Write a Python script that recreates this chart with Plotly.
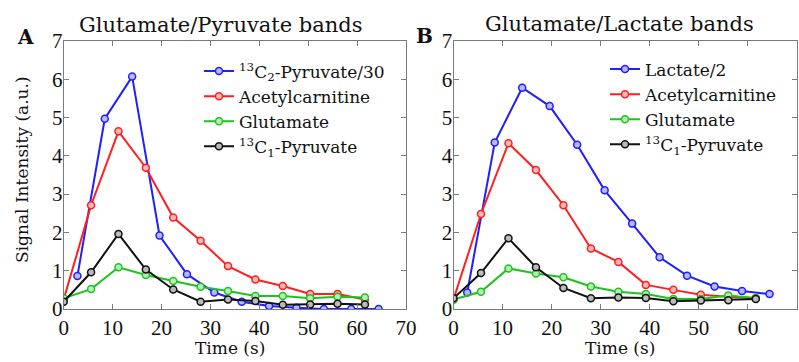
import plotly.graph_objects as go

# ---- data ----
t_main = [0, 5.6, 11.2, 16.8, 22.4, 28.0, 33.6, 39.2, 44.8, 50.4, 56.0, 61.6]
t_blue = [2.8, 8.4, 14.0, 19.6, 25.2, 30.8, 36.4, 42.0, 47.6, 53.2, 58.8, 64.4]

a_pyr30 = [0.86, 4.97, 6.07, 1.92, 0.91, 0.43, 0.19, 0.08, 0.03, 0.0, 0.0, 0.0]
a_acetyl = [0.25, 2.71, 4.64, 3.69, 2.39, 1.78, 1.12, 0.77, 0.60, 0.39, 0.39, 0.25]
a_glut = [0.28, 0.52, 1.09, 0.89, 0.73, 0.58, 0.47, 0.34, 0.34, 0.28, 0.32, 0.30]
a_pyr1 = [0.19, 0.96, 1.96, 1.03, 0.51, 0.19, 0.25, 0.21, 0.11, 0.12, 0.14, 0.12]

b_lact2 = [0.43, 4.35, 5.78, 5.30, 4.29, 3.10, 2.23, 1.35, 0.87, 0.59, 0.47, 0.39]
b_acetyl = [0.25, 2.48, 4.33, 3.63, 2.71, 1.58, 1.23, 0.63, 0.50, 0.37, 0.32, 0.29]
b_glut = [0.25, 0.45, 1.06, 0.93, 0.83, 0.59, 0.45, 0.39, 0.26, 0.26, 0.35, 0.28]
b_pyr1 = [0.28, 0.94, 1.85, 1.09, 0.55, 0.28, 0.30, 0.29, 0.20, 0.22, 0.23, 0.26]

names_a = ["<sup>13</sup>C<sub>2</sub>-Pyruvate/30", "Acetylcarnitine", "Glutamate",
           "<sup>13</sup>C<sub>1</sub>-Pyruvate"]
names_b = ["Lactate/2", "Acetylcarnitine", "Glutamate", "<sup>13</sup>C<sub>1</sub>-Pyruvate"]
titles = ["Glutamate/Pyruvate bands", "Glutamate/Lactate bands"]
x_title = "Time (s)"
y_title = "Signal Intensity (a.u.)"
x_ticks = [0, 10, 20, 30, 40, 50, 60, 70]
y_ticks = [0, 1, 2, 3, 4, 5, 6, 7]

colors = ["#1f1fff", "#ff1f1f", "#1fc21f", "#111111"]
fills = ["#b8b8ff", "#ffb8b8", "#b8ecb8", "#bbbbbb"]

FONT = "DejaVu Serif"
TICKFONT = "Liberation Serif"
W, H = 799, 362

fig = go.Figure()

series_a = [(t_blue, a_pyr30), (t_main, a_acetyl), (t_main, a_glut), (t_main, a_pyr1)]
series_b = [(t_blue, b_lact2), (t_main, b_acetyl), (t_main, b_glut), (t_main, b_pyr1)]

for i, (x, y) in enumerate(series_a):
    fig.add_trace(go.Scatter(
        x=x, y=y, name=names_a[i], mode="lines+markers",
        line=dict(color=colors[i], width=2),
        marker=dict(symbol="circle", size=7, color=fills[i], line=dict(color=colors[i], width=1.5)),
        xaxis="x", yaxis="y", legend="legend"))
for i, (x, y) in enumerate(series_b):
    fig.add_trace(go.Scatter(
        x=x, y=y, name=names_b[i], mode="lines+markers",
        line=dict(color=colors[i], width=2),
        marker=dict(symbol="circle", size=7, color=fills[i], line=dict(color=colors[i], width=1.5)),
        xaxis="x2", yaxis="y2", legend="legend2"))

def px(v):
    return v / W

def py(v):
    return 1 - v / H

ydom = [py(309), py(41)]
axis_common = dict(
    showgrid=False, zeroline=False, showline=True, linecolor="#7a7a7a", linewidth=1.2,
    mirror="ticks", ticks="inside", ticklen=5, tickcolor="#7a7a7a", tickwidth=1,
    tickfont=dict(family=TICKFONT, size=21, color="#111"), automargin=False,
)

def ann(text, x, y, size, angle=0, bold=False):
    return dict(text=f"<b>{text}</b>" if bold else text, x=px(x), y=py(y),
                xref="paper", yref="paper", xanchor="center", yanchor="middle",
                showarrow=False, textangle=angle,
                font=dict(family=FONT, size=size, color="#111"))

legend_common = dict(xanchor="left", yanchor="top",
                     font=dict(family=FONT, size=17, color="#111"), bgcolor="rgba(0,0,0,0)",
                     tracegroupgap=0, itemwidth=30)

fig.update_layout(
    width=W, height=H,
    margin=dict(l=0, r=0, t=0, b=0, autoexpand=False),
    paper_bgcolor="white", plot_bgcolor="white",
    font=dict(family=FONT, color="#111"),
    xaxis=dict(domain=[px(63.7), px(406)], range=[0, 70], tickvals=x_ticks, anchor="y",
               ticklabelstandoff=0, **axis_common),
    yaxis=dict(domain=ydom, range=[0, 7], tickvals=y_ticks, anchor="x",
               ticklabelstandoff=-4, **axis_common),
    xaxis2=dict(domain=[px(453.5), px(797)], range=[0, 70], tickvals=x_ticks, anchor="y2",
                ticklabelstandoff=0, **axis_common),
    yaxis2=dict(domain=ydom, range=[0, 7], tickvals=y_ticks, anchor="x2",
                ticklabelstandoff=-4, **axis_common),
    legend=dict(x=px(199), y=py(53.5), **legend_common),
    legend2=dict(x=px(605), y=py(51.5), **legend_common),
    annotations=[
        ann(titles[0], 221, 25, 21),
        ann(titles[1], 619, 24, 21),
        ann("A", 25, 37.5, 20, bold=True),
        ann("B", 424.5, 36, 20, bold=True),
        ann(x_title, 230, 348, 17),
        ann(x_title, 620, 348, 17),
        ann(y_title, 22, 170, 17, angle=-90),
    ],
)

fig.write_html("out.html")
